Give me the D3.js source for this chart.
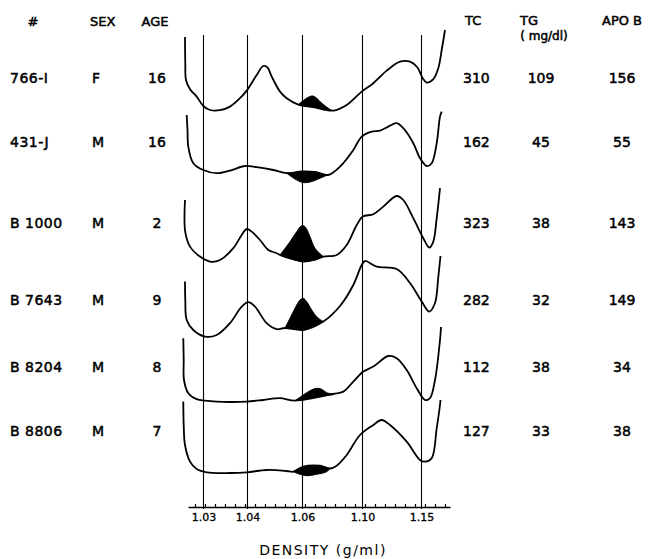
<!DOCTYPE html>
<html>
<head>
<meta charset="utf-8">
<script src="https://cdn.jsdelivr.net/npm/d3@7"></script>
<style>
  body { margin: 0; background: #fff; }
  svg text { font-family: "DejaVu Sans", sans-serif; fill: #000; }
</style>
</head>
<body>
<div id="chart"></div>
<script>

// table columns
var subjects = ["766-I", "431-J", "B 1000", "B 7643", "B 8204", "B 8806"];
var sex = ["F", "M", "M", "M", "M", "M"];
var age = [16, 16, 2, 9, 8, 7];
var tc = [310, 162, 323, 282, 112, 127];
var tg = [109, 45, 38, 32, 38, 33];
var apoB = [156, 55, 143, 149, 34, 38];

// density marks along the gradient (position = fraction number)
var densityLabels = ["1.03", "1.04", "1.06", "1.10", "1.15"];
var densityAt = [1.85, 6.25, 11.75, 17.75, 23.65];

// profiles: [fraction, absorbance]  (relative units)
var prof766 = [[0,37],[0.03,23.9],[0.1,15.5],[0.5,10.9],[1.17,7.2],[1.83,2.5],[2.5,0.5],[3.5,0.4],[4.5,2.2],[5.5,6.4],[6.17,10.2],[7.17,18],[7.83,22.5],[8.23,21.9],[8.67,17.2],[9.5,9.7],[10.17,6.4],[11.33,3.2],[12.83,1.9],[14.83,0.2],[16.17,3],[17.67,9.7],[18.83,13.9],[20.17,20.2],[21.5,24.7],[22.5,24.7],[23.23,21.9],[23.77,16.4],[24.17,14.2],[24.83,15.9],[25.33,21.4],[25.67,30.5],[26,40.5]];
var prof431 = [[0.17,30],[0.25,22.5],[0.33,14.2],[0.83,5.9],[1.83,2.5],[3.17,0.9],[4.5,2.2],[6,4.5],[7.17,3.9],[8.83,2.5],[10.17,0.9],[11.67,1.8],[13,1.5],[14.3,0],[15.5,4.2],[16.83,12.5],[17.67,19.2],[18.67,21.7],[19.5,22.2],[20.33,24.2],[21.17,25.9],[21.83,23.4],[22.83,15.9],[23.5,8.4],[24.17,4.5],[24.67,5.9],[25.17,15.9],[25.5,29.2],[25.67,31.7]];
var profB1000 = [[0,31],[0.02,15.2],[0.5,7.7],[1.5,2.7],[2.5,0.2],[3.5,1],[4.83,6.9],[5.67,13.5],[6.17,16.5],[6.67,15.2],[7.5,11],[8.33,6],[9.17,4.4],[9.5,3.5],[10.7,1.5],[11.8,0.25],[12.9,1],[13.83,2.7],[15.17,3.5],[16.17,8.5],[17.17,18.5],[17.77,22.7],[18.83,23.9],[19.83,27.7],[21.17,33],[21.83,31],[22.83,21.9],[23.83,11.9],[24.43,7.2],[24.83,10.2],[25.17,21.9],[25.5,36.9]];
var profB7643 = [[0,27.7],[0.03,18.5],[0.17,8.5],[0.83,3.5],[2,0.2],[3.17,1],[4.5,6.9],[5.67,15.2],[6.33,17.4],[7,15.2],[8.17,6.9],[9.17,3.9],[10,4.5],[11.83,3.5],[13.83,7.7],[15.5,15.5],[16.83,26],[17.67,36],[18,38],[19.17,35.2],[21.17,34],[22.5,27],[23.67,17.7],[24.43,12.7],[25,17],[25.33,30],[25.55,40.5]];
var profB8204 = [[-0.17,31.9],[-0.13,21],[-0.1,11],[0.33,4.4],[1.17,1.4],[2,0.7],[4.5,0],[6.17,0.2],[7.83,1],[9.5,1.9],[11,0.7],[14.83,4],[15.83,5.2],[16.83,10.2],[17.83,15.2],[18.83,17.7],[20.33,23],[21.17,21.9],[22.17,16],[23.17,6.9],[24,1],[24.5,1.9],[25,11],[25.5,31],[25.6,37.5]];
var profB8806 = [[-0.17,35.7],[-0.13,24],[0,14],[0.5,5.7],[1.17,2],[2.17,0.35],[4.5,0],[6.17,0.35],[8.17,1.5],[10.17,1],[10.83,0.65],[11.83,3.25],[13.5,3.65],[14.5,2.25],[15.17,3.65],[16.17,9],[17.5,19],[18.83,24],[19.67,26.5],[20.5,24],[22.17,15.65],[23.5,6.5],[24,5.65],[24.67,7.35],[25.17,22.35],[25.5,34],[25.55,36.5]];

// shaded Lp(a) band: [fraction, lower, upper]
var peak766 = [[11.33,3.2,3.2],[11.83,2.7,5.2],[12.33,2.3,6.9],[12.77,1.9,7.5],[13.17,1.6,6.4],[13.67,1.1,3.9],[14.33,0.6,1.4],[14.67,0.3,0.3]];
var peak431 = [[10.17,0.9,0.9],[11,-2,1.3],[11.8,-3.75,1.75],[12.5,-3.5,1.65],[13.2,-2.25,1.4],[13.9,-0.75,0.5],[14.3,0,0]];
var peakB1000 = [[9.5,3.5,3.5],[10.5,1.85,10.15],[11.17,0.8,15.15],[11.67,0.35,18.15],[12,0.35,17.65],[12.5,0.65,12.65],[13,1.1,6.85],[13.83,2.7,2.7]];
var peakB7643 = [[10,4.5,4.5],[10.5,4.25,9.35],[11,3.95,14.35],[11.5,3.65,18.5],[11.83,3.5,19.35],[12.17,4.2,17.65],[12.67,5.25,13.5],[13.17,6.25,10.15],[13.83,7.65,7.65]];
var peakB8204 = [[11,0.65,0.65],[11.83,1.4,3.5],[12.5,2,5.65],[13.17,2.55,6.85],[13.67,3,6.35],[14.17,3.45,4.65],[14.83,4,4]];
var peakB8806 = [[10.83,0.65,0.65],[11.5,-0.65,2.4],[12.17,-1.35,3.35],[13.17,-0.65,3.55],[14.17,0.65,2.8],[14.5,2.25,2.25]];

var profiles = [prof766, prof431, profB1000, profB7643, profB8204, profB8806];
var peaks = [peak766, peak431, peakB1000, peakB7643, peakB8204, peakB8806];

var width = 652, height = 559;

// layout: baseline of each trace and centre line of each table row
var rowBase = [111, 175, 262, 337, 402, 473];
var rowText = [79, 143, 224, 301, 368, 432];
var axisY = 507;

var svg = d3.select("#chart")
  .append("svg")
  .attr("width", width)
  .attr("height", height);

var x = d3.scaleLinear().domain([0.3, 26.5]).range([188, 450]);
var amp = d3.scaleLinear().domain([0, 40]).range([0, 80]);

// density reference lines
svg.selectAll(".dline")
  .data(densityAt)
  .enter()
  .append("line")
  .attr("x1", function(d) { return x(d); })
  .attr("x2", function(d) { return x(d); })
  .attr("y1", 35)
  .attr("y2", axisY + 2)
  .attr("stroke", "#000")
  .attr("stroke-width", 1.1);

// traces
profiles.forEach(function(p, i) {
  var base = rowBase[i];

  var area = d3.area()
    .x(function(d) { return x(d[0]); })
    .y0(function(d) { return base - amp(d[1]); })
    .y1(function(d) { return base - amp(d[2]); })
    .curve(d3.curveCatmullRom);

  svg.append("path")
    .datum(peaks[i])
    .attr("d", area)
    .attr("fill", "#000")
    .attr("stroke", "#000")
    .attr("stroke-width", 1);

  var line = d3.line()
    .x(function(d) { return x(d[0]); })
    .y(function(d) { return base - amp(d[1]); })
    .curve(d3.curveCatmullRom);

  svg.append("path")
    .datum(p)
    .attr("d", line)
    .attr("fill", "none")
    .attr("stroke", "#000")
    .attr("stroke-width", 1.8)
    .attr("stroke-linejoin", "round");
});

// axis: minor ticks pointing up, density labels below
var minor = svg.append("g")
  .attr("transform", "translate(0," + axisY + ")")
  .call(d3.axisTop(x).tickValues(d3.range(1, 27)).tickFormat("").tickSize(3).tickSizeOuter(0));
minor.select(".domain").attr("stroke-width", 1.6);
minor.selectAll(".tick line").attr("stroke-width", 1.2);

var labels = svg.append("g")
  .attr("transform", "translate(0," + axisY + ")")
  .call(d3.axisBottom(x).tickValues(densityAt)
    .tickFormat(function(d, i) { return densityLabels[i]; })
    .tickSize(0).tickPadding(6));
labels.select(".domain").remove();
labels.selectAll("text")
  .style("font-family", "DejaVu Sans, sans-serif")
  .style("font-size", "11px")
  .style("stroke", "#000")
  .style("stroke-width", "0.3px");

svg.append("text")
  .attr("x", 323)
  .attr("y", 551)
  .attr("text-anchor", "middle")
  .attr("dominant-baseline", "middle")
  .style("font-size", "14px")
  .style("letter-spacing", "1.5px")
  .text("DENSITY (g/ml)");

// table headers
var head = [
  {t: "#", x: 33, a: "middle", y: 22},
  {t: "SEX", x: 90, a: "start", y: 22},
  {t: "AGE", x: 155, a: "middle", y: 22},
  {t: "TC", x: 465, a: "start", y: 21},
  {t: "TG", x: 529, a: "middle", y: 21},
  {t: "APO B", x: 622, a: "middle", y: 21},
  {t: "( mg/dl)", x: 544, a: "middle", y: 36}
];
svg.selectAll(".head")
  .data(head)
  .enter()
  .append("text")
  .attr("x", function(d) { return d.x; })
  .attr("y", function(d) { return d.y; })
  .attr("text-anchor", function(d) { return d.a; })
  .attr("dominant-baseline", "middle")
  .style("font-size", function(d, i) { return i === 6 ? "12px" : "13px"; })
  .style("stroke", "#000")
  .style("stroke-width", "0.5px")
  .text(function(d) { return d.t; });

function column(values, xPos, anchor, spacing) {
  svg.selectAll(null)
    .data(values)
    .enter()
    .append("text")
    .attr("x", xPos)
    .attr("y", function(d, i) { return rowText[i]; })
    .attr("text-anchor", anchor)
    .attr("dominant-baseline", "middle")
    .style("font-size", "14px")
    .style("stroke", "#000")
    .style("stroke-width", "0.5px")
    .style("letter-spacing", spacing || "0px")
    .text(function(d) { return d; });
}

column(subjects, 10, "start", "0.5px");
column(sex, 92, "start");
column(age, 157, "middle");
column(tc, 463, "start");
column(tg, 541, "middle");
column(apoB, 622, "middle");

</script>
</body>
</html>
